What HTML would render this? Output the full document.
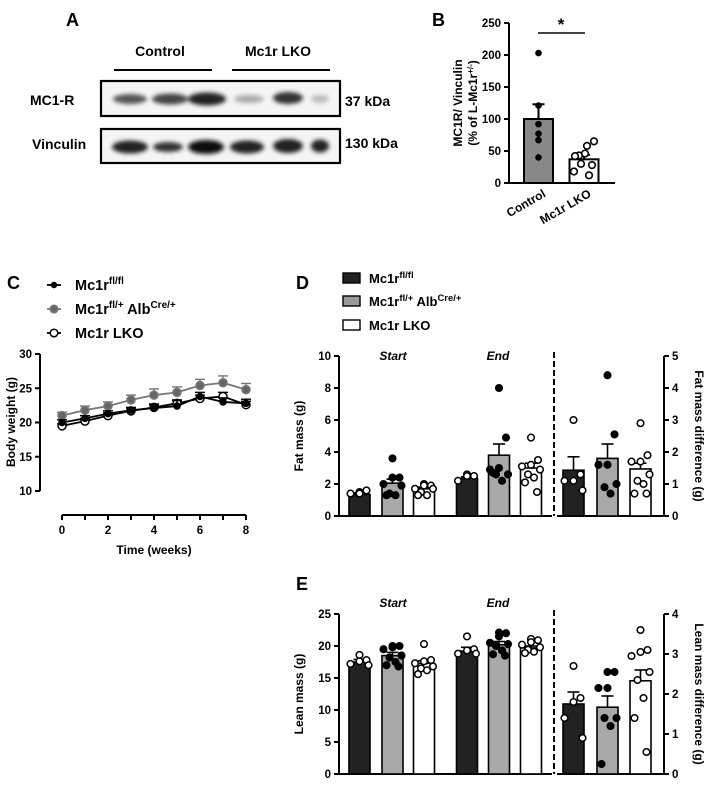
<!DOCTYPE html>
<html><head><meta charset="utf-8"><style>
html,body{margin:0;padding:0;background:#fff;}
svg{display:block;font-family:"Liberation Sans",Arial,sans-serif;font-weight:bold;}
</style></head><body>
<svg id="fig" width="715" height="786" viewBox="0 0 715 786" xmlns="http://www.w3.org/2000/svg">
<defs><filter id="blur" x="-50%" y="-50%" width="200%" height="200%"><feGaussianBlur stdDeviation="2.2"/></filter></defs>
<g>
<text x="66" y="26" font-size="18">A</text>
<text x="160" y="56" font-size="14" text-anchor="middle">Control</text>
<text x="278" y="56" font-size="14" text-anchor="middle">Mc1r LKO</text>
<line x1="114" y1="70" x2="212" y2="70" stroke="#000" stroke-width="2"/>
<line x1="232" y1="70" x2="330" y2="70" stroke="#000" stroke-width="2"/>
<text x="30" y="105" font-size="14">MC1-R</text>
<text x="32" y="149" font-size="14">Vinculin</text>
<text x="345" y="106" font-size="14">37 kDa</text>
<text x="345" y="148" font-size="14">130 kDa</text>
<rect x="101" y="81" width="239" height="35" fill="#f5f5f5" stroke="#000" stroke-width="2.2"/>
<rect x="101" y="129" width="239" height="34" fill="#f5f5f5" stroke="#000" stroke-width="2.2"/>
<g filter="url(#blur)">
<ellipse cx="130" cy="99" rx="17" ry="5" fill="#555"/>
<ellipse cx="170" cy="99" rx="18" ry="5.5" fill="#444"/>
<ellipse cx="207" cy="99" rx="19" ry="6.5" fill="#222"/>
<ellipse cx="249" cy="99" rx="15" ry="4" fill="#aaa"/>
<ellipse cx="288" cy="98" rx="15" ry="6" fill="#333"/>
<ellipse cx="320" cy="99" rx="9" ry="4" fill="#bbb"/>
<ellipse cx="130" cy="147" rx="18" ry="6.5" fill="#222"/>
<ellipse cx="168" cy="147" rx="15" ry="5" fill="#333"/>
<ellipse cx="206" cy="147" rx="18" ry="7" fill="#111"/>
<ellipse cx="247" cy="147" rx="17" ry="6.5" fill="#222"/>
<ellipse cx="288" cy="146" rx="15" ry="7" fill="#222"/>
<ellipse cx="320" cy="146" rx="9" ry="6.5" fill="#222"/>
</g>
</g>
<g id="pb"></g>
<g id="pc"></g>
<g id="pd"></g>
<g id="pe"></g>
</svg>
<script>
const bCategories = ["Control", "Mc1r LKO"];
const bMeans = [100, 37];
const bSem = [23, 7];
const bControlPts = [203, 121, 92, 77, 67, 40];
const bLkoPts = [65, 58, 43, 46, 42, 30, 28, 18, 12];
const bTicks = [0, 50, 100, 150, 200, 250];

const cWeeks = [0,1,2,3,4,5,6,7,8];
const cFlfl = [20.0,20.6,21.3,21.8,22.1,22.4,23.8,23.0,22.8];
const cFlflErr = [0.4,0.4,0.4,0.4,0.5,0.8,0.6,0.6,0.6];
const cAlb = [21.0,21.8,22.4,23.3,24.0,24.4,25.4,25.8,24.8];
const cAlbErr = [0.5,0.6,0.6,0.7,0.9,0.8,0.9,1.0,0.9];
const cLko = [19.5,20.2,21.0,21.7,22.2,22.8,23.5,23.8,22.6];
const cLkoErr = [0.3,0.4,0.4,0.4,0.5,0.5,0.5,0.6,0.5];
const cYTicks = [10,15,20,25,30];
const cXTicks = [0,2,4,6,8];

const dMeans = [1.35, 2.05, 1.7, 2.35, 3.8, 3.0, 1.43, 1.8, 1.47];
const dSem = [0.1, 0.25, 0.1, 0.1, 0.7, 0.3, 0.42, 0.45, 0.18];
const dPoints = [
  [1.5,1.6,1.4,1.4],
  [3.6,2.4,2.4,2.0,1.9,1.4,1.3,1.3],
  [2.0,1.9,1.9,1.7,1.7,1.5,1.3,1.3],
  [2.6,2.5,2.5,2.2],
  [8.0,4.9,3.0,2.9,2.6,2.6,2.2,2.7],
  [4.9,3.5,3.2,3.1,2.9,2.6,2.4,2.1,1.5],
  [3.0,1.3,1.1,1.1,0.8],
  [4.4,2.55,1.6,1.6,1.0,0.9,0.7],
  [2.9,1.9,1.7,1.7,1.3,1.1,1.0,0.7,0.7]
];
const dLeftTicks = [0,2,4,6,8,10];
const dRightTicks = [0,1,2,3,4,5];

const eMeans = [17.5, 18.5, 17.3, 19.2, 20.2, 19.7, 1.75, 1.67, 2.33];
const eSem = [0.4, 0.5, 0.4, 0.6, 0.5, 0.3, 0.3, 0.28, 0.27];
const ePoints = [
  [18.6,17.8,17.6,17.2,17.0],
  [20.0,20.0,19.8,19.5,18.5,18.2,17.5,17.0,16.8],
  [20.3,17.8,17.6,17.3,16.8,16.5,16.2,15.6],
  [21.5,19.5,19.3,18.8,18.8],
  [22.1,22.0,21.5,20.5,20.3,20.0,19.3,18.7,18.5],
  [21.1,20.9,20.6,20.2,19.8,19.4,19.1,18.9],
  [2.7,1.9,1.8,1.4,0.9],
  [2.55,2.55,2.15,2.15,1.4,1.4,1.2,0.25],
  [3.6,3.1,3.05,2.95,2.55,2.35,1.9,1.4,0.55]
];
const eLeftTicks = [0,5,10,15,20,25];
const eRightTicks = [0,1,2,3,4];

const NS = "http://www.w3.org/2000/svg";
function mk(parent, tag, attrs, text) {
  const el = document.createElementNS(NS, tag);
  for (const k in attrs) el.setAttribute(k, attrs[k]);
  if (text !== undefined) el.textContent = text;
  parent.appendChild(el);
  return el;
}
function scale(d0, d1, r0, r1) { return v => r0 + (v - d0) * (r1 - r0) / (d1 - d0); }
const jitPattern = [-7, 7, 0, -9, 9, -3, 3, -6, 6];

(function(){
  const g = document.getElementById('pb');
  const y = scale(0, 250, 183, 23);
  const centers = [538.5, 584];
  const bw = 29;
  let t = mk(g,'text',{x:432,y:26,'font-size':18});
  t.textContent = 'B';
  
  
  mk(g,'line',{x1:509,y1:y(250),x2:509,y2:183,stroke:'#000','stroke-width':2});
  mk(g,'line',{x1:509,y1:183,x2:615,y2:183,stroke:'#000','stroke-width':2});
  bTicks.forEach(v=>{
    mk(g,'line',{x1:504,y1:y(v),x2:509,y2:y(v),stroke:'#000','stroke-width':2});
    const tl = mk(g,'text',{x:501,y:y(v)+4,'font-size':11.5,'text-anchor':'end'}, String(v));
    
    
  });
  const yt = mk(g,'text',{transform:'translate(462,103) rotate(-90)','font-size':12,'text-anchor':'middle'},'MC1R/ Vinculin');
  
  
  const yt2 = mk(g,'text',{transform:'translate(477,103) rotate(-90)','font-size':12,'text-anchor':'middle'});
  
  
  yt2.innerHTML = '(% of L-Mc1r<tspan dy="-4" font-size="8">+/-</tspan><tspan dy="4">)</tspan>';
  const fills = ['#888','#fff'];
  bMeans.forEach((m,i)=>{
    const r = mk(g,'rect',{x:centers[i]-bw/2,y:y(m),width:bw,height:183-y(m),fill:fills[i],stroke:'#000','stroke-width':2});
    
    
    mk(g,'line',{x1:centers[i],y1:y(m),x2:centers[i],y2:y(m+bSem[i]),stroke:'#000','stroke-width':2});
    mk(g,'line',{x1:centers[i]-6,y1:y(m+bSem[i]),x2:centers[i]+6,y2:y(m+bSem[i]),stroke:'#000','stroke-width':2});
    const lbl = mk(g,'text',{transform:`translate(${centers[i]+8},${196}) rotate(-30)`,'font-size':12,'text-anchor':'end'},bCategories[i]);
    
    
  });
  bControlPts.forEach((v,i)=>{
    const c = mk(g,'circle',{cx:centers[0],cy:y(v),r:3.3,fill:'#000'});
    
    
  });
  const lx = [10,3,-5,1,-9,-3,8,-10,5];
  bLkoPts.forEach((v,i)=>{
    const c = mk(g,'circle',{cx:centers[1]+lx[i],cy:y(v),r:3.3,fill:'#fff',stroke:'#000','stroke-width':1.6});
    
    
  });
  mk(g,'line',{x1:538,y1:33,x2:585,y2:33,stroke:'#000','stroke-width':1.6});
  const s = mk(g,'text',{x:561,y:30,'font-size':17,'text-anchor':'middle'},'*');
  
  
})();

(function(){
  const g = document.getElementById('pc');
  const x = scale(0, 8, 62, 246);
  const y = scale(10, 30, 491, 354);
  let t = mk(g,'text',{x:7,y:289,'font-size':18},'C');
  
  
  mk(g,'line',{x1:40,y1:354,x2:40,y2:491,stroke:'#000','stroke-width':2});
  cYTicks.forEach(v=>{
    mk(g,'line',{x1:35,y1:y(v),x2:40,y2:y(v),stroke:'#000','stroke-width':2});
    const tl = mk(g,'text',{x:32,y:y(v)+4,'font-size':11.5,'text-anchor':'end'},String(v));
    
    
  });
  mk(g,'line',{x1:62,y1:515,x2:246,y2:515,stroke:'#000','stroke-width':2});
  cWeeks.forEach(w=>{ mk(g,'line',{x1:x(w),y1:515,x2:x(w),y2:520,stroke:'#000','stroke-width':2}); });
  cXTicks.forEach(w=>{
    const tl = mk(g,'text',{x:x(w),y:534,'font-size':11.5,'text-anchor':'middle'},String(w));
    
    
  });
  const xt = mk(g,'text',{x:154,y:554,'font-size':12,'text-anchor':'middle'},'Time (weeks)');
  
  
  const yt = mk(g,'text',{transform:'translate(15,422) rotate(-90)','font-size':12,'text-anchor':'middle'},'Body weight (g)');
  
  
  const series = [
    {v:cAlb,e:cAlbErr,stroke:'#777',fill:'#666',r:4,name:'alb-cre'},
    {v:cLko,e:cLkoErr,stroke:'#000',fill:'#fff',r:4,name:'lko'},
    {v:cFlfl,e:cFlflErr,stroke:'#000',fill:'#000',r:3,name:'flfl'}
  ];
  series.forEach(s=>{
    s.v.forEach((v,i)=>{
      mk(g,'line',{x1:x(cWeeks[i]),y1:y(v),x2:x(cWeeks[i]),y2:y(v+s.e[i]),stroke:s.stroke,'stroke-width':1.4});
      mk(g,'line',{x1:x(cWeeks[i])-5,y1:y(v+s.e[i]),x2:x(cWeeks[i])+5,y2:y(v+s.e[i]),stroke:s.stroke,'stroke-width':1.4});
    });
    const p = mk(g,'polyline',{points:s.v.map((v,i)=>x(cWeeks[i])+','+y(v)).join(' '),fill:'none',stroke:s.stroke,'stroke-width':1.8});
    
    
    s.v.forEach((v,i)=>{
      const c = mk(g,'circle',{cx:x(cWeeks[i]),cy:y(v),r:s.r,fill:s.fill,stroke:s.stroke,'stroke-width':1.5});
      
      
    });
  });
  const leg = [
    {y:285,stroke:'#000',fill:'#000',r:2.5,html:'Mc1r<tspan dy="-6" font-size="10">fl/fl</tspan>'},
    {y:309,stroke:'#777',fill:'#666',r:3.8,html:'Mc1r<tspan dy="-6" font-size="10">fl/+</tspan><tspan dy="6"> Alb</tspan><tspan dy="-6" font-size="10">Cre/+</tspan>'},
    {y:333,stroke:'#000',fill:'#fff',r:3.8,html:'Mc1r LKO'}
  ];
  leg.forEach((l,i)=>{
    mk(g,'line',{x1:47,y1:l.y,x2:61,y2:l.y,stroke:l.stroke,'stroke-width':1.8});
    mk(g,'circle',{cx:54,cy:l.y,r:l.r,fill:l.fill,stroke:l.stroke,'stroke-width':1.5});
    const tx = mk(g,'text',{x:75,y:l.y+5,'font-size':14.5});
    
    
    tx.innerHTML = l.html;
  });
})();

const barX = [359.5, 392.5, 424, 467, 499, 531, 573.5, 607.5, 640.5];
const barFill = ['#222','#a9a9a9','#fff','#222','#a9a9a9','#fff','#222','#a9a9a9','#fff'];
const ptFill = ['#fff','#000','#fff','#fff','#000','#fff','#fff','#000','#fff'];
function barPanel(g, prefix, top, bottom, lMax, rMax, lTicks, rTicks, means, sem, pts, lTitle, rTitle, startY, dashTop) {
  const yl = scale(0, lMax, bottom, top);
  const yr = scale(0, rMax, bottom, top);
  mk(g,'line',{x1:339,y1:top,x2:339,y2:bottom,stroke:'#000','stroke-width':2});
  mk(g,'line',{x1:339,y1:bottom,x2:552,y2:bottom,stroke:'#000','stroke-width':2});
  mk(g,'line',{x1:557,y1:bottom,x2:664,y2:bottom,stroke:'#000','stroke-width':2});
  mk(g,'line',{x1:664,y1:top,x2:664,y2:bottom,stroke:'#000','stroke-width':2});
  mk(g,'line',{x1:554,y1:dashTop,x2:554,y2:bottom,stroke:'#000','stroke-width':2,'stroke-dasharray':'6,3'});
  lTicks.forEach(v=>{
    mk(g,'line',{x1:334,y1:yl(v),x2:339,y2:yl(v),stroke:'#000','stroke-width':2});
    const tl = mk(g,'text',{x:331,y:yl(v)+4,'font-size':11.5,'text-anchor':'end'},String(v));
    
    
  });
  rTicks.forEach(v=>{
    mk(g,'line',{x1:664,y1:yr(v),x2:669,y2:yr(v),stroke:'#000','stroke-width':2});
    const tl = mk(g,'text',{x:672,y:yr(v)+4,'font-size':11.5},String(v));
    
    
  });
  const lt = mk(g,'text',{transform:`translate(303,${(top+bottom)/2}) rotate(-90)`,'font-size':12,'text-anchor':'middle'},lTitle);
  
  
  const rt = mk(g,'text',{transform:`translate(695,${(top+bottom)/2}) rotate(90)`,'font-size':12,'text-anchor':'middle'},rTitle);
  
  
  const st = mk(g,'text',{x:393,y:startY,'font-size':12,'font-style':'italic','text-anchor':'middle'},'Start');
  
  
  const en = mk(g,'text',{x:498,y:startY,'font-size':12,'font-style':'italic','text-anchor':'middle'},'End');
  
  
  means.forEach((m,i)=>{
    const y = i < 6 ? yl : yr;
    const cx = barX[i];
    const r = mk(g,'rect',{x:cx-10.5,y:y(m),width:21,height:bottom-y(m),fill:barFill[i],stroke:'#000','stroke-width':1.6});
    
    
    mk(g,'line',{x1:cx,y1:y(m),x2:cx,y2:y(m+sem[i]),stroke:'#000','stroke-width':1.6});
    mk(g,'line',{x1:cx-6,y1:y(m+sem[i]),x2:cx+6,y2:y(m+sem[i]),stroke:'#000','stroke-width':1.6});
    pts[i].forEach((v,k)=>{
      const off = k === 0 ? 0 : jitPattern[k % jitPattern.length];
      const c = mk(g,'circle',{cx:cx+off,cy:y(v),r:3.3,fill:ptFill[i],stroke:'#000','stroke-width':1.5});
      
      
    });
  });
}
(function(){
  const g = document.getElementById('pd');
  let t = mk(g,'text',{x:296,y:289,'font-size':18},'D');
  
  
  const leg = [
    {y:273,fill:'#222',html:'Mc1r<tspan dy="-5" font-size="9.5">fl/fl</tspan>'},
    {y:296,fill:'#999',html:'Mc1r<tspan dy="-5" font-size="9.5">fl/+</tspan><tspan dy="5"> Alb</tspan><tspan dy="-5" font-size="9.5">Cre/+</tspan>'},
    {y:320,fill:'#fff',html:'Mc1r LKO'}
  ];
  leg.forEach(l=>{
    mk(g,'rect',{x:343,y:l.y,width:17,height:10,fill:l.fill,stroke:'#000','stroke-width':1.4});
    const tx = mk(g,'text',{x:369,y:l.y+10,'font-size':13});
    
    
    tx.innerHTML = l.html;
  });
  barPanel(g,'d',356,516,10,5,dLeftTicks,dRightTicks,dMeans,dSem,dPoints,'Fat mass (g)','Fat mass difference (g)',360,352);
})();
(function(){
  const g = document.getElementById('pe');
  let t = mk(g,'text',{x:296,y:590,'font-size':18},'E');
  
  
  barPanel(g,'e',614,774,25,4,eLeftTicks,eRightTicks,eMeans,eSem,ePoints,'Lean mass (g)','Lean mass difference (g)',607,610);
})();
</script>
</body></html>
